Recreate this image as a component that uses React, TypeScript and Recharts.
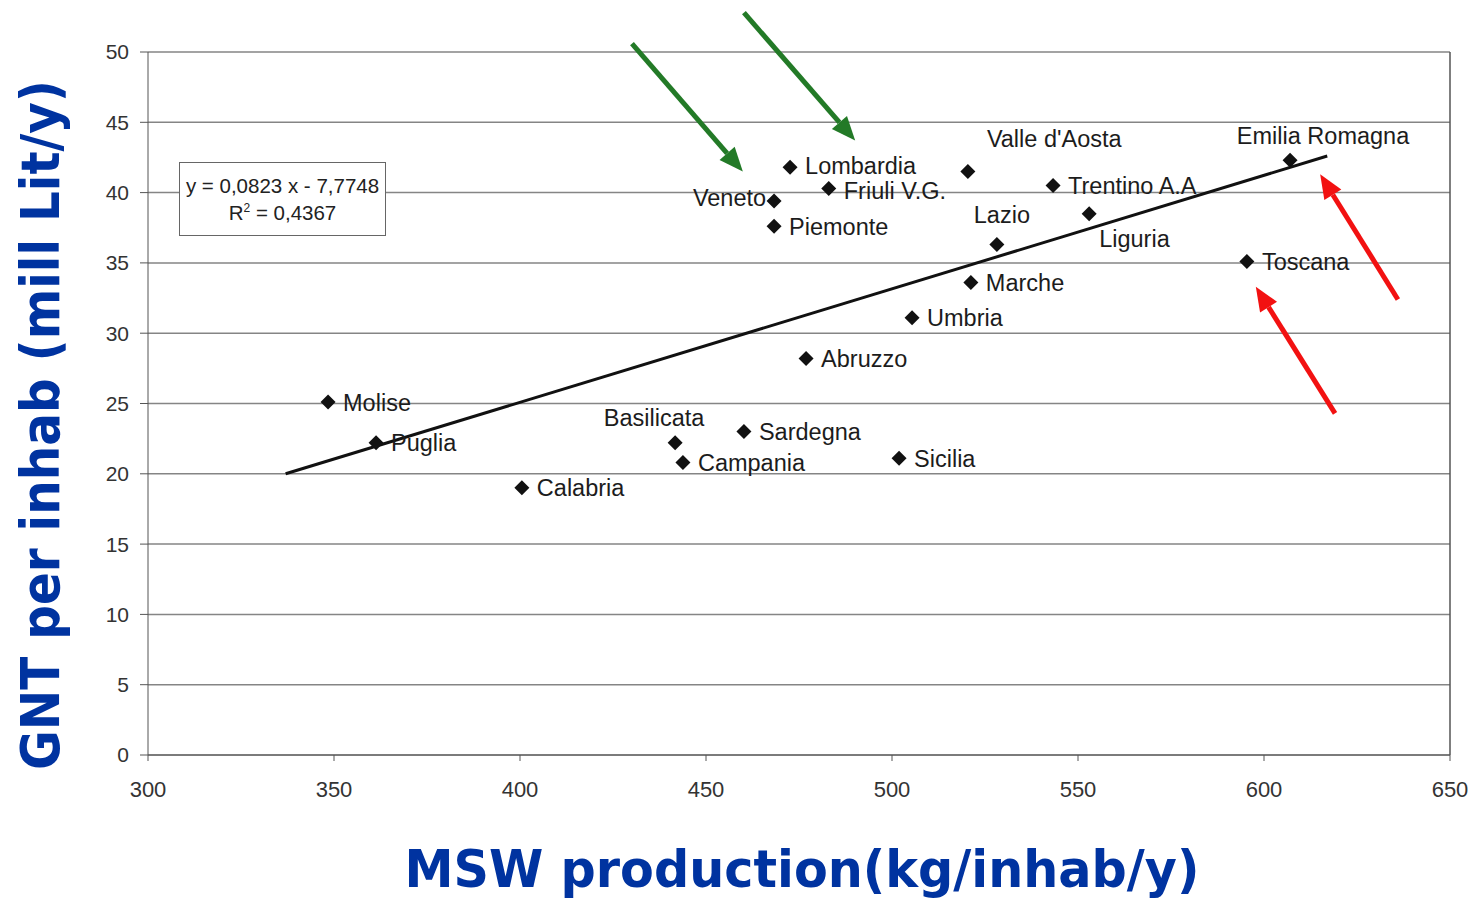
import {
    ScatterChart,
    Scatter,
    XAxis,
    YAxis,
    CartesianGrid,
    ReferenceLine
} from "recharts";

// ==============================
// DATA
// ==============================
const regions = [
    "Molise",
    "Puglia",
    "Calabria",
    "Basilicata",
    "Campania",
    "Sardegna",
    "Sicilia",
    "Abruzzo",
    "Umbria",
    "Marche",
    "Lazio",
    "Liguria",
    "Trentino A.A",
    "Valle d'Aosta",
    "Lombardia",
    "Friuli V.G.",
    "Veneto",
    "Piemonte",
    "Toscana",
    "Emilia Romagna"
];

// MSW production (kg/inhab/y)
const mswValues = [
    348.4, 361.3, 400.5, 441.7, 443.8, 460.2, 501.9, 476.9, 505.4, 521.2,
    528.2, 553.0, 543.3, 520.4, 472.6, 483.0, 468.3, 468.3, 595.4, 607.0
];

// GNT per inhab (mill Lit/y)
const gntValues = [
    25.1, 22.2, 19.0, 22.2, 20.8, 23.0, 21.1, 28.2, 31.1, 33.6,
    36.3, 38.5, 40.5, 41.5, 41.8, 40.3, 39.4, 37.6, 35.1, 42.3
];

// regression line end points
const trendMsw = [337, 617];
const trendGnt = [20.0, 42.6];

// annotation arrows (tail -> tip)
const arrowTailMsw = [430.1, 460.2, 636.0, 619.1];
const arrowTailGnt = [50.6, 52.8, 32.4, 24.3];
const arrowTipMsw = [459.9, 490.1, 615.1, 597.8];
const arrowTipGnt = [41.5, 43.7, 41.3, 33.3];

const xTicks = [300, 350, 400, 450, 500, 550, 600, 650];
const yTicks = [0, 5, 10, 15, 20, 25, 30, 35, 40, 45, 50];

const xTitle = "MSW production(kg/inhab/y)";
const yTitle = "GNT per inhab (mill Lit/y)";

// ==============================
// STYLE
// ==============================
const TITLE_BLUE = "#0033a0";
const arrowColors = ["#237a27", "#237a27", "#f21111", "#f21111"];

const labelPlacement: Record<string, { dx: number; dy: number; anchor: string }> = {
    "Veneto": { dx: -8, dy: -3, anchor: "end" },
    "Basilicata": { dx: -21, dy: -25, anchor: "middle" },
    "Lazio": { dx: 5, dy: -30, anchor: "middle" },
    "Liguria": { dx: 10, dy: 25, anchor: "start" },
    "Valle d'Aosta": { dx: 19, dy: -33, anchor: "start" },
    "Emilia Romagna": { dx: 33, dy: -25, anchor: "middle" },
    "Lombardia": { dx: 15, dy: -2, anchor: "start" },
    "Friuli V.G.": { dx: 15, dy: 2, anchor: "start" }
};

const points = regions.map((name, i) => ({
    name,
    msw: mswValues[i],
    gnt: gntValues[i]
}));

function RegionMarker(props: any) {
    const { cx, cy, payload } = props;
    if (cx == null || cy == null) return null;

    const place =
        labelPlacement[payload.name] || { dx: 15, dy: 0, anchor: "start" };

    const r = 7.5;

    return (
        <g>
            <path
                d={`M${cx},${cy - r} L${cx + r},${cy} L${cx},${cy + r} L${cx - r},${cy} Z`}
                fill="#111"
            />
            <text
                x={cx + place.dx}
                y={cy + place.dy}
                dy="0.36em"
                textAnchor={place.anchor as any}
                fontFamily="'Liberation Sans', Arial, sans-serif"
                fontSize={23.5}
                fill="#1c1c1c"
            >
                {payload.name}
            </text>
        </g>
    );
}

function ArrowShape(props: any) {
    const { x1, y1, x2, y2, stroke } = props;

    const angle = Math.atan2(y2 - y1, x2 - x1);
    const headLen = 24;
    const headHalf = 10;

    const bx = x2 - headLen * Math.cos(angle);
    const by = y2 - headLen * Math.sin(angle);
    const px = -Math.sin(angle) * headHalf;
    const py = Math.cos(angle) * headHalf;

    return (
        <g>
            <line
                x1={x1}
                y1={y1}
                x2={bx}
                y2={by}
                stroke={stroke}
                strokeWidth={5}
            />
            <polygon
                points={`${x2},${y2} ${bx + px},${by + py} ${bx - px},${by - py}`}
                fill={stroke}
            />
        </g>
    );
}

export default function App() {
    return (
        <div
            style={{
                position: "absolute",
                left: 0,
                top: 0,
                width: 1472,
                height: 898,
                background: "#fff"
            }}
        >
            <ScatterChart
                width={1472}
                height={898}
                margin={{ top: 52, right: 22, bottom: 0, left: 0 }}
            >
                {/* GRID */}
                <CartesianGrid
                    vertical={false}
                    stroke="#858585"
                    strokeWidth={1.5}
                />

                {/* X AXIS */}
                <XAxis
                    type="number"
                    dataKey="msw"
                    domain={[300, 650]}
                    ticks={xTicks}
                    interval={0}
                    allowDataOverflow
                    height={143}
                    tickSize={6}
                    tickMargin={20}
                    stroke="#555"
                    tick={{
                        fill: "#333",
                        fontSize: 22,
                        fontFamily: "'Liberation Sans', Arial, sans-serif"
                    }}
                    label={{
                        content: () => (
                            <text
                                x={802}
                                y={887}
                                textAnchor="middle"
                                fontFamily="'DejaVu Sans', sans-serif"
                                fontWeight="bold"
                                fontSize={52}
                                fill={TITLE_BLUE}
                                textLength={795}
                                lengthAdjust="spacingAndGlyphs"
                            >
                                {xTitle}
                            </text>
                        )
                    }}
                />

                {/* Y AXIS */}
                <YAxis
                    type="number"
                    dataKey="gnt"
                    domain={[0, 50]}
                    ticks={yTicks}
                    interval={0}
                    allowDataOverflow
                    width={148}
                    tickSize={8}
                    tickMargin={11}
                    stroke="#555"
                    tick={{
                        fill: "#333",
                        fontSize: 21,
                        fontFamily: "'Liberation Sans', Arial, sans-serif"
                    }}
                    label={{
                        content: () => (
                            <text
                                x={59}
                                y={425}
                                transform="rotate(-90 59 425)"
                                textAnchor="middle"
                                fontFamily="'DejaVu Sans', sans-serif"
                                fontWeight="bold"
                                fontSize={53}
                                fill={TITLE_BLUE}
                                textLength={690}
                                lengthAdjust="spacingAndGlyphs"
                            >
                                {yTitle}
                            </text>
                        )
                    }}
                />

                {/* RIGHT BORDER */}
                <ReferenceLine x={650} stroke="#555" strokeWidth={1.5} />

                {/* REGRESSION LINE */}
                <ReferenceLine
                    segment={[
                        { x: trendMsw[0], y: trendGnt[0] },
                        { x: trendMsw[1], y: trendGnt[1] }
                    ]}
                    stroke="#111"
                    strokeWidth={3}
                    ifOverflow="visible"
                />

                {/* POINTS */}
                <Scatter
                    data={points}
                    isAnimationActive={false}
                    shape={(p: any) => <RegionMarker {...p} />}
                />

                {/* ARROWS */}
                {arrowTailMsw.map((_, i) => (
                    <ReferenceLine
                        key={`arrow-${i}`}
                        segment={[
                            { x: arrowTailMsw[i], y: arrowTailGnt[i] },
                            { x: arrowTipMsw[i], y: arrowTipGnt[i] }
                        ]}
                        stroke={arrowColors[i]}
                        ifOverflow="visible"
                        shape={(p: any) => <ArrowShape {...p} />}
                    />
                ))}
            </ScatterChart>

            {/* EQUATION BOX */}
            <div
                style={{
                    position: "absolute",
                    left: 179,
                    top: 162,
                    width: 205,
                    height: 72,
                    border: "1.5px solid #666",
                    background: "#fff",
                    boxSizing: "content-box",
                    fontFamily: "'Liberation Sans', Arial, sans-serif",
                    fontSize: 20.5,
                    color: "#222",
                    textAlign: "center",
                    lineHeight: "27px",
                    whiteSpace: "nowrap"
                }}
            >
                <div style={{ marginTop: 9 }}>y = 0,0823 x - 7,7748</div>
                <div>
                    R<sup style={{ fontSize: 12, lineHeight: 0 }}>2</sup> = 0,4367
                </div>
            </div>
        </div>
    );
}
